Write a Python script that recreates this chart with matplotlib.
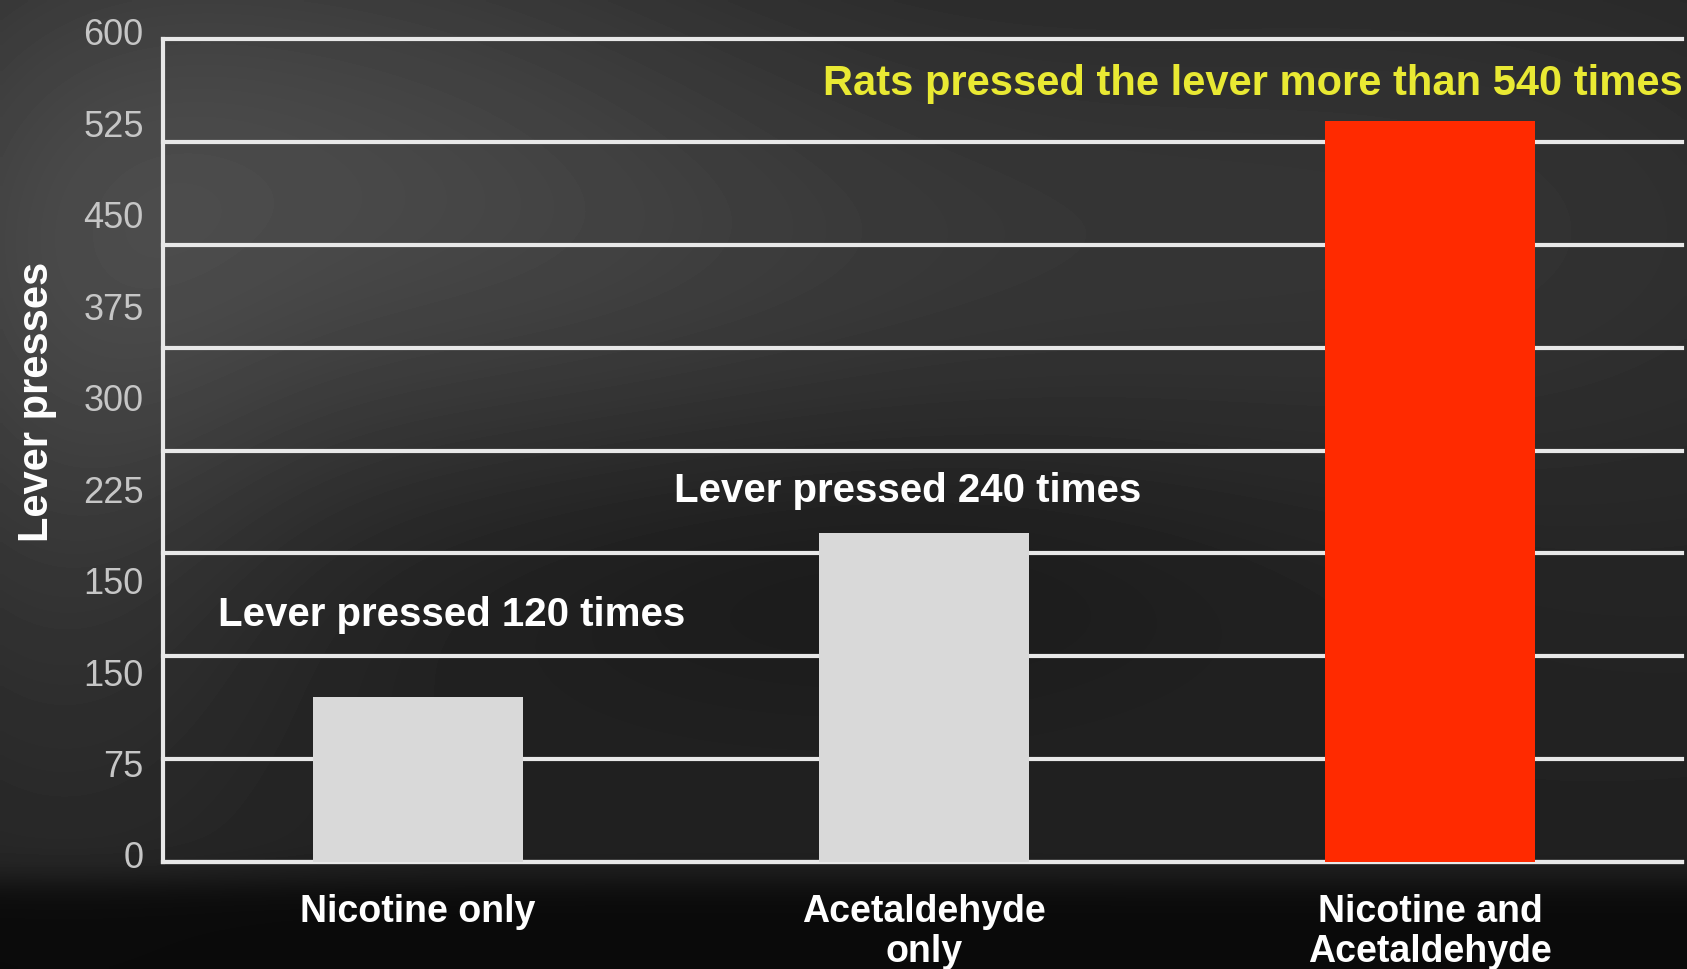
import numpy as np
import matplotlib
matplotlib.use("Agg")
import matplotlib.pyplot as plt
from matplotlib.transforms import ScaledTranslation

# ---- data ----
categories = ["Nicotine only", "Acetaldehyde\nonly", "Nicotine and\nAcetaldehyde"]
lever_presses = [120, 240, 540]
annotations = ["Lever pressed 120 times",
               "Lever pressed 240 times",
               "Rats pressed the lever more than 540 times"]
grid_values = [0, 75, 150, 225, 300, 375, 450, 525, 600]
ytick_labels = ["0", "75", "150", "150", "225", "300", "375", "450", "525", "600"]

# ---- style ----
bar_colors = ["#d9d9d9", "#d9d9d9", "#ff2a00"]
ann_colors = ["#ffffff", "#ffffff", "#e9e933"]
ann_dx = [0.067, -0.033, -0.35]
ann_dy = [61, 31, 28]

plt.rcParams['font.family'] = ['Liberation Sans', 'DejaVu Sans']

W, H = 1687, 970
fig = plt.figure(figsize=(W / 100, H / 100), dpi=100)

# smoky dark background
bg = fig.add_axes([0, 0, 1, 1], zorder=-10)
yy, xx = np.mgrid[0:H:5, 0:W:5].astype(float)


def blob(cx, cy, sx, sy, a):
    return a * np.exp(-(((xx - cx) / sx) ** 2 + ((yy - cy) / sy) ** 2) / 2)


field = (0.13 + blob(300, 170, 330, 230, 0.13) + blob(60, 420, 160, 300, 0.07)
         + blob(1400, 230, 420, 230, 0.07) + blob(750, 260, 300, 160, 0.04)
         - blob(850, 560, 380, 110, 0.04))
field *= 1 - 0.7 / (1 + np.exp(-(yy - 880) / 10))
bg.imshow(field, cmap='gray', vmin=0, vmax=1, extent=[0, 1, 0, 1],
          aspect='auto', interpolation='bilinear', origin='upper')
bg.axis('off')

# main axes
ax = fig.add_axes([163 / W, 1 - 863 / H, (1682 - 163) / W, 823 / H])
ax.patch.set_alpha(0)
x = np.arange(len(categories))
ax.bar(x, lever_presses, width=0.415, color=bar_colors, zorder=3)
ax.set_xlim(-0.504, 2.498)
ax.set_ylim(0, 600)

for g in grid_values:
    ax.axhline(g, color='#e8e8e8', linewidth=3, zorder=1, clip_on=False)

ax.set_yticks(np.linspace(0, 600, len(ytick_labels)))
ax.set_yticklabels(ytick_labels, color='#c6c6c6', fontsize=26)
ax.tick_params(axis='y', which='both', length=0, pad=14)
offset = ScaledTranslation(0, 8 / 100, fig.dpi_scale_trans)
for lbl in ax.get_yticklabels():
    lbl.set_transform(lbl.get_transform() + offset)

ax.set_xticks(x)
ax.set_xticklabels(categories, color='white', fontsize=27, fontweight='bold',
                   linespacing=1.15)
ax.tick_params(axis='x', length=0, pad=22)

for s in ['top', 'right']:
    ax.spines[s].set_visible(False)
for s in ['left', 'bottom']:
    ax.spines[s].set_color('#e8e8e8')
    ax.spines[s].set_linewidth(3)

for i, (t, c) in enumerate(zip(annotations, ann_colors)):
    ax.text(x[i] + ann_dx[i], lever_presses[i] + ann_dy[i], t, ha='center',
            va='center', fontsize=30 if i == 2 else 29, fontweight='bold',
            color=c, zorder=5)

fig.text(37 / W, 1 - 402 / H, "Lever presses", rotation=90, ha='center',
         va='center', fontsize=30, fontweight='bold', color='white')

fig.savefig("out.png", dpi=100)
